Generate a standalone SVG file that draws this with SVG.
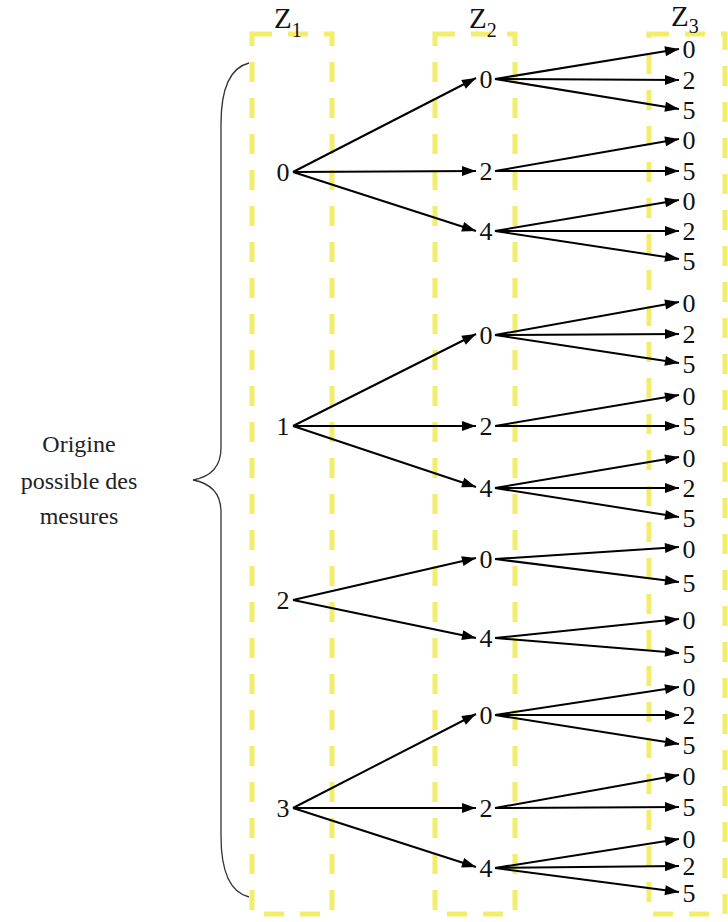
<svg xmlns="http://www.w3.org/2000/svg" width="728" height="922" viewBox="0 0 728 922">
  <style>
    .box { fill: none; stroke: #f3ee6a; stroke-width: 5; stroke-dasharray: 20 16; }
    text { font-family: "Liberation Serif", Tinos, "Times New Roman", Times, "Nimbus Roman", "Noto Serif", "DejaVu Serif", FreeSerif, serif; }
    .lbl { font-size: 26px; fill: #111; text-anchor: middle; }
    .hdr { font-size: 29px; fill: #111; }
    .sub { font-size: 20px; }
    .side { font-size: 24px; fill: #222; text-anchor: middle; }
    .edge { stroke: #000; stroke-width: 2; fill: none; marker-end: url(#arrow); }
    .brace { fill: none; stroke: #333; stroke-width: 1.3; }
  </style>
  <defs>
    <marker id="arrow" markerUnits="userSpaceOnUse" markerWidth="15" markerHeight="11" refX="14" refY="5" orient="auto" overflow="visible">
      <path d="M0,0 L14,5 L0,10 Z" fill="#000"/>
    </marker>
  </defs>
  <rect width="728" height="922" fill="#fff"/>

  <!-- column frames -->
  <g id="columns">
    <rect class="box" x="252" y="34" width="80" height="880"/>
    <rect class="box" x="435" y="34" width="80" height="880"/>
    <rect class="box" x="649" y="34" width="76" height="880"/>
  </g>

  <!-- column headers -->
  <g id="headers">
    <text class="hdr" x="274" y="28">Z<tspan class="sub" dy="9">1</tspan></text>
    <text class="hdr" x="469" y="28">Z<tspan class="sub" dy="9">2</tspan></text>
    <text class="hdr" x="671" y="26">Z<tspan class="sub" dy="7">3</tspan></text>
  </g>

  <!-- brace and side caption -->
  <g id="origin">
    <path class="brace" d="M249,63 C229,68 221,92 221,124 L221,448 C221,468 209,477 193,480 C209,483 221,492 221,512 L221,836 C221,868 229,892 249,897"/>
    <text class="side" x="79" y="452">Origine</text>
    <text class="side" x="79" y="489">possible des</text>
    <text class="side" x="79" y="524">mesures</text>
  </g>

  <!-- connectors -->
  <g id="connectors">
    <!-- Z1 -> Z2 -->
    <line class="edge" x1="293" y1="172" x2="476" y2="78"/>
    <line class="edge" x1="293" y1="172" x2="476" y2="171"/>
    <line class="edge" x1="293" y1="172" x2="476" y2="231"/>
    <line class="edge" x1="293" y1="426" x2="476" y2="334"/>
    <line class="edge" x1="293" y1="426" x2="476" y2="426"/>
    <line class="edge" x1="293" y1="426" x2="476" y2="487"/>
    <line class="edge" x1="293" y1="600" x2="476" y2="558"/>
    <line class="edge" x1="293" y1="600" x2="476" y2="638"/>
    <line class="edge" x1="293" y1="808" x2="476" y2="714"/>
    <line class="edge" x1="293" y1="808" x2="476" y2="808"/>
    <line class="edge" x1="293" y1="808" x2="476" y2="867"/>
    <!-- Z2 -> Z3 -->
    <line class="edge" x1="495" y1="79" x2="679" y2="49"/>
    <line class="edge" x1="495" y1="79" x2="679" y2="80"/>
    <line class="edge" x1="495" y1="79" x2="679" y2="109"/>
    <line class="edge" x1="495" y1="171" x2="679" y2="139"/>
    <line class="edge" x1="495" y1="171" x2="679" y2="171"/>
    <line class="edge" x1="495" y1="231" x2="679" y2="200"/>
    <line class="edge" x1="495" y1="231" x2="679" y2="231"/>
    <line class="edge" x1="495" y1="231" x2="679" y2="259"/>
    <line class="edge" x1="495" y1="335" x2="679" y2="302"/>
    <line class="edge" x1="495" y1="335" x2="679" y2="334"/>
    <line class="edge" x1="495" y1="335" x2="679" y2="363"/>
    <line class="edge" x1="495" y1="426" x2="679" y2="395"/>
    <line class="edge" x1="495" y1="426" x2="679" y2="426"/>
    <line class="edge" x1="495" y1="488" x2="679" y2="457"/>
    <line class="edge" x1="495" y1="488" x2="679" y2="488"/>
    <line class="edge" x1="495" y1="488" x2="679" y2="517"/>
    <line class="edge" x1="495" y1="559" x2="679" y2="547"/>
    <line class="edge" x1="495" y1="559" x2="679" y2="582"/>
    <line class="edge" x1="495" y1="638" x2="679" y2="619"/>
    <line class="edge" x1="495" y1="638" x2="679" y2="653"/>
    <line class="edge" x1="495" y1="715" x2="679" y2="687"/>
    <line class="edge" x1="495" y1="715" x2="679" y2="715"/>
    <line class="edge" x1="495" y1="715" x2="679" y2="744"/>
    <line class="edge" x1="495" y1="808" x2="679" y2="775"/>
    <line class="edge" x1="495" y1="808" x2="679" y2="807"/>
    <line class="edge" x1="495" y1="868" x2="679" y2="839"/>
    <line class="edge" x1="495" y1="868" x2="679" y2="866"/>
    <line class="edge" x1="495" y1="868" x2="679" y2="892"/>
  </g>

  <!-- Z1 values -->
  <g id="z1-0"><text class="lbl" x="283" y="181">0</text></g>
  <g id="z1-1"><text class="lbl" x="283" y="435">1</text></g>
  <g id="z1-2"><text class="lbl" x="283" y="609">2</text></g>
  <g id="z1-3"><text class="lbl" x="283" y="817">3</text></g>

  <!-- Z2 values -->
  <g id="z2-00"><text class="lbl" x="486" y="88">0</text></g>
  <g id="z2-02"><text class="lbl" x="486" y="180">2</text></g>
  <g id="z2-04"><text class="lbl" x="486" y="240">4</text></g>
  <g id="z2-10"><text class="lbl" x="486" y="344">0</text></g>
  <g id="z2-12"><text class="lbl" x="486" y="435">2</text></g>
  <g id="z2-14"><text class="lbl" x="486" y="497">4</text></g>
  <g id="z2-20"><text class="lbl" x="486" y="568">0</text></g>
  <g id="z2-24"><text class="lbl" x="486" y="647">4</text></g>
  <g id="z2-30"><text class="lbl" x="486" y="724">0</text></g>
  <g id="z2-32"><text class="lbl" x="486" y="817">2</text></g>
  <g id="z2-34"><text class="lbl" x="486" y="877">4</text></g>

  <!-- Z3 values -->
  <g id="z3-a"><text class="lbl" x="689" y="58">0</text><text class="lbl" x="689" y="89">2</text><text class="lbl" x="689" y="119">5</text></g>
  <g id="z3-b"><text class="lbl" x="689" y="149">0</text><text class="lbl" x="689" y="180">5</text></g>
  <g id="z3-c"><text class="lbl" x="689" y="210">0</text><text class="lbl" x="689" y="240">2</text><text class="lbl" x="689" y="270">5</text></g>
  <g id="z3-d"><text class="lbl" x="689" y="312">0</text><text class="lbl" x="689" y="343">2</text><text class="lbl" x="689" y="373">5</text></g>
  <g id="z3-e"><text class="lbl" x="689" y="405">0</text><text class="lbl" x="689" y="435">5</text></g>
  <g id="z3-f"><text class="lbl" x="689" y="467">0</text><text class="lbl" x="689" y="497">2</text><text class="lbl" x="689" y="527">5</text></g>
  <g id="z3-g"><text class="lbl" x="689" y="558">0</text><text class="lbl" x="689" y="592">5</text></g>
  <g id="z3-h"><text class="lbl" x="689" y="629">0</text><text class="lbl" x="689" y="663">5</text></g>
  <g id="z3-i"><text class="lbl" x="689" y="696">0</text><text class="lbl" x="689" y="724">2</text><text class="lbl" x="689" y="754">5</text></g>
  <g id="z3-j"><text class="lbl" x="689" y="785">0</text><text class="lbl" x="689" y="816">5</text></g>
  <g id="z3-k"><text class="lbl" x="689" y="848">0</text><text class="lbl" x="689" y="875">2</text><text class="lbl" x="689" y="902">5</text></g>
</svg>
